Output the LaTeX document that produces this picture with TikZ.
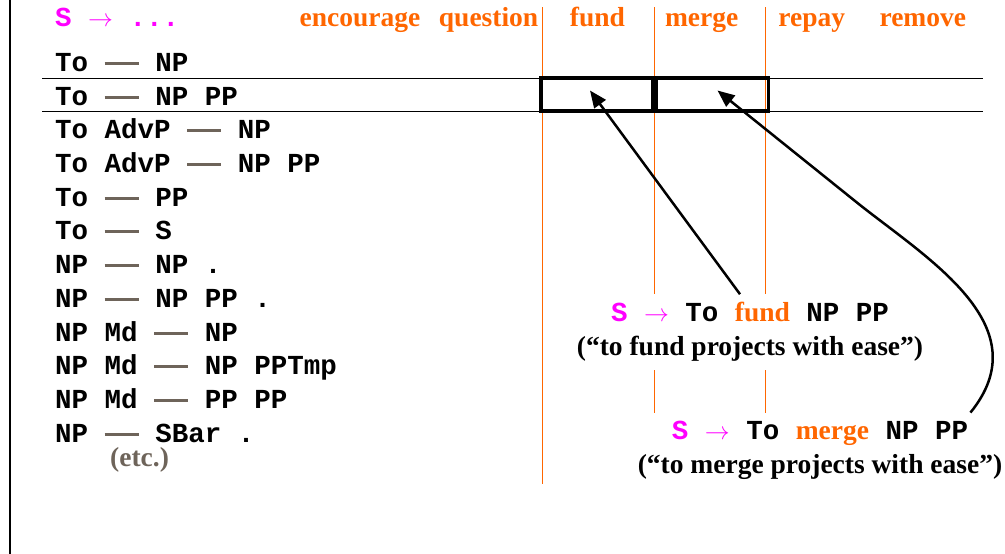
\documentclass[tikz,border=0pt]{standalone}
\usepackage{fontspec}
\setmainfont{Liberation Serif}
\newfontfamily\monof{Liberation Mono}
\usetikzlibrary{arrows.meta,positioning}
\definecolor{verbor}{RGB}{255,102,0}
\definecolor{lhsmag}{RGB}{255,0,255}
\definecolor{slotgray}{RGB}{110,100,90}
\newcommand{\slot}{\textcolor{slotgray}{\rule[6pt]{1.24em}{3pt}}}
\newcommand{\lhs}{\textcolor{lhsmag}{S $\rightarrow$}}

\begin{document}
\begin{tikzpicture}[x=1pt,y=-1pt,
		every node/.style={font=\fontsize{27.5}{34}\selectfont\bfseries,inner sep=0pt},
		rulerow/.style={anchor=base west,font=\fontsize{27.5}{34}\selectfont\bfseries\monof},
		verbhead/.style={anchor=base,text=verbor},
		cell/.style={draw,line width=3.5pt,minimum width=112pt,minimum height=33pt},
		gloss/.style={fill=white,align=center,inner xsep=4pt,inner ysep=8pt,font=\fontsize{27.5}{34}\selectfont\bfseries\monof},
		pointer/.style={line width=2.5pt,-{Triangle[length=17pt,width=14pt]}}]
	\useasboundingbox (0,0) rectangle (1005,554);
	\draw[line width=1.2pt] (10,0) -- (10,554);
		\foreach \x in {542,654,765}{%
		\draw[verbor,line width=1pt] (\x,7) -- (\x,484);
	}
	\node[rulerow] (hd-S) at (55,27) {\textcolor{lhsmag}{S $\rightarrow$ ...}};
		\foreach \v/\x in {encourage/360,question/488.6,fund/597.5,merge/701.7,repay/811.7,remove/922.8}{%
		\node[verbhead] (hd-\v) at (\x,27) {\v};
	}
		\foreach \r [count=\i from 0] in {To \slot{} NP,To \slot{} NP PP,To AdvP \slot{} NP,To AdvP \slot{} NP PP,To \slot{} PP,To \slot{} S,NP \slot{} NP .,NP \slot{} NP PP .,NP Md \slot{} NP,NP Md \slot{} NP PPTmp,NP Md \slot{} PP PP,NP \slot{} SBar .}{%
		\node[rulerow] (R-\i) at (55,{71+round(33.7*\i)}) {\r};
	}
	\node[anchor=base west,text=slotgray] (etc) at (110,466) {(etc.)};
	\draw[line width=1pt] (42,78) -- (983,78);
	\draw[line width=1pt] (42,111) -- (983,111);
	\node[cell] (C-fund) at (597,94.5) {};
	\node[cell,right=0pt of C-fund] (C-merge) {};
	\node[gloss] (G-fund) at (750,332) {\lhs{} To \textrm{\textcolor{verbor}{fund}} NP PP\\ \textrm{(“to fund projects with ease”)}};
	\node[gloss] (G-merge) at (820,450) {\lhs{} To \textrm{\textcolor{verbor}{merge}} NP PP\\ \textrm{(“to merge projects with ease”)}};
	\draw[pointer] ([xshift=-10pt]G-fund.north) -- ([xshift=-7pt,yshift=4pt]C-fund.center);
	\draw[pointer] ([xshift=-36pt]G-merge.north east) .. controls (1040,327) and (931,261) .. (860,205) -- ([xshift=5pt,yshift=4pt]C-merge.center);
\end{tikzpicture}
\end{document}
